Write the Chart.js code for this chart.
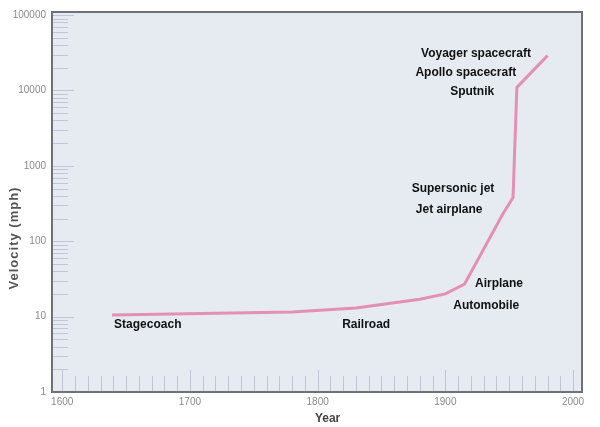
<!DOCTYPE html>
<html>
<head>
<meta charset="utf-8">
<script src="https://cdn.jsdelivr.net/npm/chart.js@4/dist/chart.umd.min.js"></script>
<style>
  html, body { margin: 0; padding: 0; background: #ffffff; }
  #wrap { width: 600px; height: 427px; }
</style>
</head>
<body>
<div id="wrap"><canvas id="c" width="600" height="427"></canvas></div>
<script>
// ---- data ----
const years      = [1639, 1780, 1830, 1880, 1900, 1915, 1945, 1953, 1956, 1980];
const velocities = [10.5, 11.5, 13, 17, 20, 27, 230, 380, 11000, 29000];

const xTickYears  = [1600, 1700, 1800, 1900, 2000];
const yTickValues = [1, 10, 100, 1000, 10000, 100000];

const xTitle = 'Year';
const yTitle = 'Velocity (mph)';

const labelTexts  = ['Stagecoach', 'Railroad', 'Automobile', 'Airplane', 'Supersonic jet', 'Jet airplane', 'Sputnik', 'Apollo spacecraft', 'Voyager spacecraft'];
const labelYears  = [1667, 1838, 1932, 1942, 1906, 1903, 1921, 1916, 1924];
const labelValues = [7.8, 7.8, 14, 27.5, 494, 259, 9700, 17400, 31000];

const points = years.map((y, i) => ({ x: y, y: velocities[i] }));
const FONT = '"Liberation Sans", Arial, sans-serif';

const frame = {
  id: 'frame',
  beforeDraw(chart) {
    const { ctx, chartArea: a } = chart;
    ctx.save();
    ctx.fillStyle = '#e5ebf1';
    ctx.fillRect(a.left, a.top, a.right - a.left, a.bottom - a.top);
    const ys = chart.scales.y, xs = chart.scales.x;
    ctx.strokeStyle = 'rgba(150,150,185,0.45)';
    ctx.lineWidth = 1;
    for (let d = 1; d <= 100000; d *= 10) {
      for (let m = 1; m <= 9; m++) {
        const v = d * m;
        if (v > 110000) break;
        const py = Math.round(ys.getPixelForValue(v)) + 0.5;
        ctx.beginPath();
        ctx.moveTo(a.left, py);
        ctx.lineTo(a.left + (m === 1 ? 22 : 16), py);
        ctx.stroke();
      }
    }
    for (let yr = 1600; yr <= 2000; yr += 10) {
      const px = Math.round(xs.getPixelForValue(yr)) + 0.5;
      ctx.beginPath();
      ctx.moveTo(px, a.bottom);
      ctx.lineTo(px, a.bottom - (yr % 100 === 0 ? 22 : 16));
      ctx.stroke();
    }
    ctx.restore();
  },
  afterDraw(chart) {
    const { ctx, chartArea: a } = chart;
    ctx.save();
    ctx.strokeStyle = '#6e7278';
    ctx.lineWidth = 2;
    ctx.strokeRect(a.left, a.top, a.right - a.left, a.bottom - a.top);
    const xs = chart.scales.x, ys = chart.scales.y;
    ctx.fillStyle = '#111';
    ctx.font = 'bold 12px ' + FONT;
    ctx.textAlign = 'center';
    ctx.textBaseline = 'middle';
    labelTexts.forEach((t, i) => {
      ctx.fillText(t, xs.getPixelForValue(labelYears[i]), ys.getPixelForValue(labelValues[i]));
    });
    // axis titles
    ctx.fillStyle = '#444';
    ctx.font = 'bold 12px ' + FONT;
    ctx.fillText(xTitle, a.left + (a.right - a.left) * 0.52, 419);
    ctx.save();
    ctx.translate(14, 238);
    ctx.rotate(-Math.PI / 2);
    ctx.fillStyle = '#555';
    ctx.font = 'bold 13px ' + FONT;
    if ('letterSpacing' in ctx) ctx.letterSpacing = '1px';
    ctx.fillText(yTitle, 0, 0);
    ctx.restore();
    ctx.restore();
  }
};

new Chart(document.getElementById('c'), {
  type: 'line',
  data: {
    datasets: [{
      data: points,
      borderColor: '#e48fb6',
      borderWidth: 3,
      pointRadius: 0,
      tension: 0,
      fill: false
    }]
  },
  options: {
    responsive: false,
    animation: false,
    layout: { padding: { left: 0, right: 18, top: 12, bottom: 0 } },
    plugins: { legend: { display: false }, tooltip: { enabled: false } },
    scales: {
      x: {
        type: 'linear',
        min: 1592,
        max: 2007,
        afterBuildTicks(s) { s.ticks = xTickYears.map(v => ({ value: v })); },
        afterFit(s) { s.height = 35; },
        grid: { display: false, drawTicks: false },
        border: { display: false },
        ticks: {
          color: '#8a8a8a',
          font: { size: 10, family: FONT },
          padding: 4,
          maxRotation: 0,
          callback: v => String(v)
        }
      },
      y: {
        type: 'logarithmic',
        min: 1,
        max: 110000,
        afterBuildTicks(s) { s.ticks = yTickValues.map(v => ({ value: v })); },
        afterFit(s) { s.width = 52; },
        grid: { display: false, drawTicks: false },
        border: { display: false },
        ticks: {
          color: '#8a8a8a',
          font: { size: 10, family: FONT },
          padding: 6,
          callback: v => String(v)
        }
      }
    }
  },
  plugins: [frame]
});
</script>
</body>
</html>
